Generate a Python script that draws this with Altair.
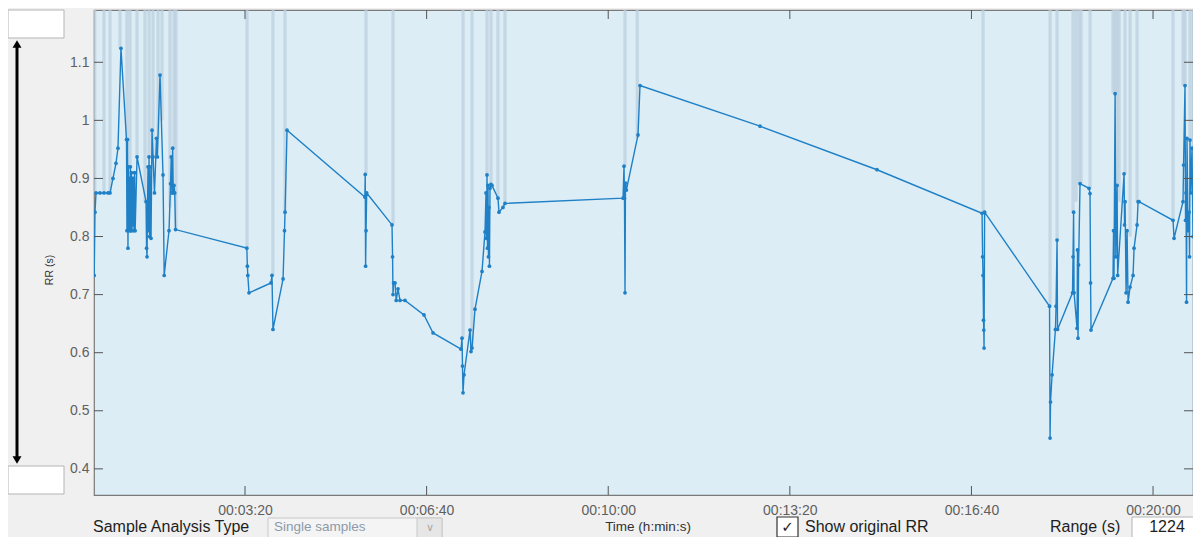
import altair as alt
import pandas as pd

# ---------------- data ----------------
T = [33.9, 34.8, 35.9, 40.3, 44.7, 49.1, 51.3, 54.6, 57.9, 60.1,
     63.4, 69.5, 70.0, 70.6, 71.1, 71.6, 72.2, 72.7, 73.3, 73.8,
     74.4, 74.9, 75.5, 76.1, 76.7, 77.2, 77.8, 78.4, 79.0, 81.1,
     91.0, 91.6, 92.1, 92.7, 93.2, 93.8, 94.3, 94.9, 95.4, 96.5,
     97.6, 98.7, 100.3, 102.5, 103.5, 106.4, 109.7, 111.0, 116.3, 118.0,
     118.8, 119.6, 120.4, 121.0, 121.8, 122.6, 123.5, 202.0, 202.6, 203.1,
     204.4, 228.6, 229.7, 230.8, 241.9, 243.5, 244.1, 246.3, 332.0, 332.4,
     332.8, 333.3, 334.0, 361.9, 362.5, 363.0, 363.6, 365.2, 366.5, 368.5,
     370.7, 376.2, 397.1, 407.1, 437.9, 439.0, 439.5, 440.1, 441.2, 447.8,
     448.9, 450.0, 453.3, 461.0, 464.3, 465.4, 465.9, 466.5, 467.0, 467.6,
     468.1, 468.7, 469.2, 469.8, 470.9, 472.0, 478.6, 479.7, 484.1, 486.3,
     616.3, 617.4, 617.9, 618.5, 619.0, 620.0, 632.8, 635.0, 767.2, 896.0,
     1011.7, 1012.3, 1012.8, 1013.3, 1013.6, 1013.9, 1014.5, 1086.0, 1086.6, 1087.1,
     1088.8, 1092.5, 1093.2, 1094.3, 1094.8, 1111.3, 1111.9, 1112.5, 1113.0, 1116.3,
     1116.8, 1117.4, 1118.0, 1119.6, 1129.5, 1130.6, 1131.2, 1131.7, 1155.9, 1156.5,
     1157.0, 1158.2, 1159.0, 1160.4, 1161.0, 1168.1, 1168.6, 1169.2, 1170.3, 1171.4,
     1172.5, 1174.7, 1178.0, 1179.1, 1182.4, 1183.5, 1184.6, 1222.0, 1223.1, 1233.0,
     1233.6, 1235.2, 1235.8, 1236.3, 1236.9, 1237.4, 1238.5, 1239.6, 1240.2, 1240.7,
     1241.5, 1242.9, 1244.0, 1246.2, 1247.3, 1248.4, 1249.5, 1250.5, 1251.7, 1252.5]

RR = [0.733, 0.842, 0.875, 0.875, 0.875, 0.875, 0.875, 0.900, 0.926, 0.952,
      1.124, 0.967, 0.81, 0.967, 0.78, 0.92, 0.81, 0.90, 0.81, 0.92,
      0.81, 0.91, 0.81, 0.90, 0.82, 0.90, 0.81, 0.91, 0.81, 0.937,
      0.86, 0.78, 0.765, 0.86, 0.92, 0.81, 0.937, 0.80, 0.92, 0.797,
      0.983, 0.937, 0.875, 0.969, 0.937, 1.078, 0.906, 0.733, 0.81, 0.891,
      0.937, 0.875, 0.952, 0.875, 0.888, 0.875, 0.812, 0.78, 0.749, 0.733,
      0.703, 0.72, 0.733, 0.64, 0.727, 0.81, 0.842, 0.983, 0.868, 0.907,
      0.749, 0.81, 0.875, 0.82, 0.765, 0.70, 0.72, 0.72, 0.69, 0.71,
      0.69, 0.69, 0.665, 0.634, 0.606, 0.625, 0.577, 0.531, 0.562, 0.639,
      0.602, 0.608, 0.675, 0.740, 0.808, 0.875, 0.797, 0.906, 0.78, 0.888,
      0.765, 0.85, 0.749, 0.883, 0.89, 0.888, 0.866, 0.842, 0.85, 0.857,
      0.866, 0.921, 0.866, 0.703, 0.892, 0.88, 0.975, 1.06, 0.99, 0.915,
      0.84, 0.765, 0.733, 0.656, 0.639, 0.608, 0.842, 0.68, 0.453, 0.515,
      0.562, 0.64, 0.68, 0.794, 0.64, 0.703, 0.765, 0.842, 0.703, 0.642,
      0.777, 0.625, 0.751, 0.891, 0.883, 0.874, 0.72, 0.639, 0.728, 0.81,
      0.728, 1.046, 0.765, 0.888, 0.733, 0.908, 0.82, 0.86, 0.703, 0.81,
      0.687, 0.713, 0.733, 0.78, 0.82, 0.86, 0.86, 0.828, 0.797, 0.86,
      0.923, 1.06, 0.828, 0.875, 0.687, 0.969, 0.81, 0.842, 0.765, 0.966,
      0.875, 0.952, 0.80, 0.902, 0.74, 0.84, 0.72, 0.80, 0.703, 0.86]

# original-RR artifact beats (values run off the top of the axis)
BAND_T = [34.5, 44.7, 51.3, 62.3, 70.0, 73.3, 81.1, 89.9, 94.3, 98.7,
          104.2, 108.6, 117.4, 121.8, 124.0, 202.2, 230.8, 244.1, 333.3, 363.0,
          440.1, 450.0, 466.5, 470.9, 478.6, 486.3, 618.5, 632.0, 1012.8, 1086.6,
          1094.3, 1111.9, 1115.2, 1118.5, 1120.7, 1130.6, 1155.9, 1158.2, 1160.4, 1162.6,
          1169.2, 1174.7, 1182.4, 1222.0, 1233.0, 1235.2, 1240.7, 1244.0, 1248.4]
BAND_LO = [0.875, 0.875, 0.875, 1.124, 0.967, 0.92, 0.937, 0.86, 0.937, 0.937,
           0.969, 1.0, 0.85, 0.952, 0.812, 0.78, 0.733, 0.842, 0.907, 0.82,
           0.625, 0.608, 0.906, 0.89, 0.866, 0.857, 0.921, 0.97, 0.842, 0.68,
           0.794, 0.842, 0.86, 0.891, 0.891, 0.883, 1.046, 1.046, 0.888, 0.86,
           0.908, 0.8, 0.86, 0.828, 1.06, 1.06, 0.966, 0.95, 0.90]

X_TICKS = [200, 400, 600, 800, 1000, 1200]
Y_TICKS = [0.4, 0.5, 0.6, 0.7, 0.8, 0.9, 1.0, 1.1]
X_DOMAIN = [33.7, 1244.0]
Y_DOMAIN = [0.355, 1.19]

W, H = 1099, 485
FONT = "Liberation Sans"

df = pd.DataFrame({"t": T, "rr": RR})
bands = pd.DataFrame({"t": BAND_T, "lo": BAND_LO})
yt = pd.DataFrame({"v": Y_TICKS})
xt = pd.DataFrame({"t": X_TICKS})

xscale = alt.Scale(domain=X_DOMAIN, nice=False, zero=False)
yscale = alt.Scale(domain=Y_DOMAIN, nice=False, zero=False)

label_expr = ("'00:' + (floor(datum.value/60) < 10 ? '0' : '') + floor(datum.value/60) + ':' + "
              "(datum.value % 60 < 10 ? '0' : '') + (datum.value % 60)")

x_axis = alt.Axis(values=X_TICKS, labelExpr=label_expr, title=None, ticks=False, domain=False,
                  grid=False, labelFontSize=14, labelColor="#5f5f5f", labelFont=FONT,
                  labelPadding=8, labelFlush=False)
y_axis = alt.Axis(values=Y_TICKS, format="~g", title=None, ticks=False, domain=False, grid=False,
                  labelFontSize=14, labelColor="#5f5f5f", labelFont=FONT, labelPadding=5)


def X(field):
    return alt.X(field, type="quantitative", scale=xscale, axis=x_axis)


def Y(field):
    return alt.Y(field, type="quantitative", scale=yscale, axis=y_axis)


band_layer = alt.Chart(bands).mark_rule(color="#bccfdd", strokeWidth=3.2, opacity=0.75, clip=True).encode(
    x=X("t"), y=Y("lo"), y2=alt.datum(Y_DOMAIN[1]),
)
line_layer = alt.Chart(df).mark_line(color="#1f80c6", strokeWidth=1.4, clip=True).encode(
    x=X("t"), y=Y("rr"),
)
pt_layer = alt.Chart(df).mark_circle(color="#1f80c6", size=14, opacity=1, clip=True).encode(
    x=X("t"), y=Y("rr"),
)

tick_color = "#555555"
ytick_l = alt.Chart(yt).mark_rule(color=tick_color, strokeWidth=1).encode(
    y=Y("v"), x=alt.value(0), x2=alt.value(9))
ytick_r = alt.Chart(yt).mark_rule(color=tick_color, strokeWidth=1).encode(
    y=Y("v"), x=alt.value(W - 9), x2=alt.value(W))
xtick_b = alt.Chart(xt).mark_rule(color=tick_color, strokeWidth=1).encode(
    x=X("t"), y=alt.value(H - 9), y2=alt.value(H))
xtick_t = alt.Chart(xt).mark_rule(color=tick_color, strokeWidth=1).encode(
    x=X("t"), y=alt.value(0), y2=alt.value(9))

# ---------------- GUI decorations (pixel positions relative to plot origin) ----------------
one = pd.DataFrame({"k": [0]})


def box(x1, x2, y1, y2, fill, stroke, sw=1):
    return alt.Chart(one).mark_rect(fill=fill, stroke=stroke, strokeWidth=sw).encode(
        x=alt.value(x1), x2=alt.value(x2), y=alt.value(y1), y2=alt.value(y2))


def label(txt, x, y, size, color, align="left", font=FONT):
    return alt.Chart(one).mark_text(text=txt, align=align, baseline="middle", fontSize=size,
                                    color=color, font=font).encode(x=alt.value(x), y=alt.value(y))


TY = 517  # vertical centre of the bottom control row (plot coordinates)

gui = [
    box(-86, -30, 0, 28, "#ffffff", "#b4b4b4"),
    box(-86, -30, 456, 484, "#ffffff", "#b4b4b4"),
    alt.Chart(one).mark_rule(color="#000000", strokeWidth=3).encode(
        x=alt.value(-77), y=alt.value(34), y2=alt.value(450)),
    alt.Chart(one).mark_point(shape="triangle-up", filled=True, color="#000000", size=80, opacity=1).encode(
        x=alt.value(-77), y=alt.value(34)),
    alt.Chart(one).mark_point(shape="triangle-down", filled=True, color="#000000", size=80, opacity=1).encode(
        x=alt.value(-77), y=alt.value(450)),
    alt.Chart(one).mark_text(text="RR (s)", angle=270, align="center", baseline="middle", fontSize=10.5,
                             color="#333333", font=FONT).encode(x=alt.value(-44), y=alt.value(260)),
    label("Sample Analysis Type", -1, TY, 16, "#1e1e1e"),
    box(174, 348, 508, 540, "#f4f4f4", "#c8c8c8"),
    box(323, 348, 508, 540, "#e6e6e6", "#c8c8c8"),
    label("Single samples", 180, TY, 13.5, "#8c9aaa"),
    label("∨", 336, TY + 1, 11, "#a8a8a8", align="center", font="DejaVu Sans"),
    label("Time (h:min:s)", 554, TY, 13.5, "#333333", align="center"),
    box(683, 704, 507, 527, "#ffffff", "#333333", 1.2),
    label("✓", 693.5, TY, 15, "#222222", align="center", font="DejaVu Sans"),
    label("Show original RR", 711, TY, 16, "#1e1e1e"),
    label("Range (s)", 956, TY, 16, "#1e1e1e"),
    box(1038, 1110, 507, 540, "#ffffff", "#b4b4b4"),
    label("1224", 1073, TY, 16, "#1e1e1e", align="center"),
]

chart = alt.layer(
    band_layer, line_layer, pt_layer, ytick_l, ytick_r, xtick_b, xtick_t, *gui
).properties(
    width=W, height=H,
    autosize=alt.AutoSizeParams(type="none"),
    padding={"left": 86, "top": 2, "right": 0, "bottom": 42},
    background="#f0f0f0",
).configure_view(
    fill="#dcedf6", stroke="#7a7a7a", strokeWidth=1.2
)

chart.save("out.html", embed_options={"renderer": "svg", "actions": False})
